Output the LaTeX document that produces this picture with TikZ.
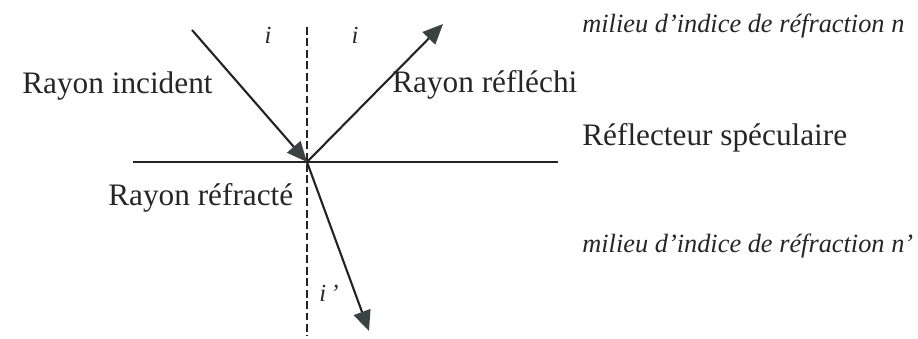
\documentclass[tikz,border=0pt]{standalone}
\usepackage{fontspec}
\setmainfont{Liberation Serif}
\usetikzlibrary{arrows.meta}
\definecolor{rayGray}{RGB}{35,35,35}
\definecolor{headGray}{RGB}{58,66,66}

\begin{document}
\begin{tikzpicture}[x=0.02cm,y=-0.02cm,
    ray/.style={line width=1.2pt, rayGray, -{Triangle[length=11.5pt,width=10pt,fill=headGray,color=headGray]}},
    lbl/.style={font=\fontsize{17.8}{20}\selectfont, text=black!85, inner sep=0pt},
    med/.style={font=\fontsize{15}{17}\selectfont\itshape, text=black!85, inner sep=0pt},
    ang/.style={font=\fontsize{14}{16}\selectfont\itshape, text=black!85, inner sep=0pt}]
    \useasboundingbox (0,0) rectangle (918,338);
    % Points of the figure
    \coordinate (O) at (307,162);
    \coordinate (inS) at (192,30);
    \coordinate (reE) at (443,24);
    \coordinate (rfE) at (369,331);
    \coordinate (nT) at (307,27);
    \coordinate (nB) at (307,336);
    \coordinate (sL) at (133,162);
    \coordinate (sR) at (558,162);
    % Surface and normal
    \draw[line width=0.9pt, rayGray] (sL) -- (sR);
    \draw[line width=0.8pt, rayGray, dash pattern=on 4.5pt off 2pt] (nT) -- (nB);
    % Rays
    \draw[ray] (inS) -- (O);
    \draw[ray] (O) -- (reE);
    \draw[ray] (O) -- (rfE);
    % Labels
    \node[lbl, anchor=base west] (incident) at (22,93) {Rayon incident};
    \node[lbl, anchor=base west] (reflechi) at (392,92) {Rayon réfléchi};
    \node[lbl, anchor=base west] (reflecteur) at (582,145) {Réflecteur spéculaire};
    \node[lbl, anchor=base west] (refracte) at (108,205) {Rayon réfracté};
    \node[med, anchor=base west] (milieuN) at (582,32) {milieu d'indice de réfraction n};
    \node[med, anchor=base west] (milieuNp) at (582,252) {milieu d'indice de réfraction n'};
    % Angles
    \node[ang] (angI) at (268,35) {i};
    \node[ang] (angR) at (355,35) {i};
    \node[ang] (angT) at (329,293) {i\,'};
\end{tikzpicture}
\end{document}
